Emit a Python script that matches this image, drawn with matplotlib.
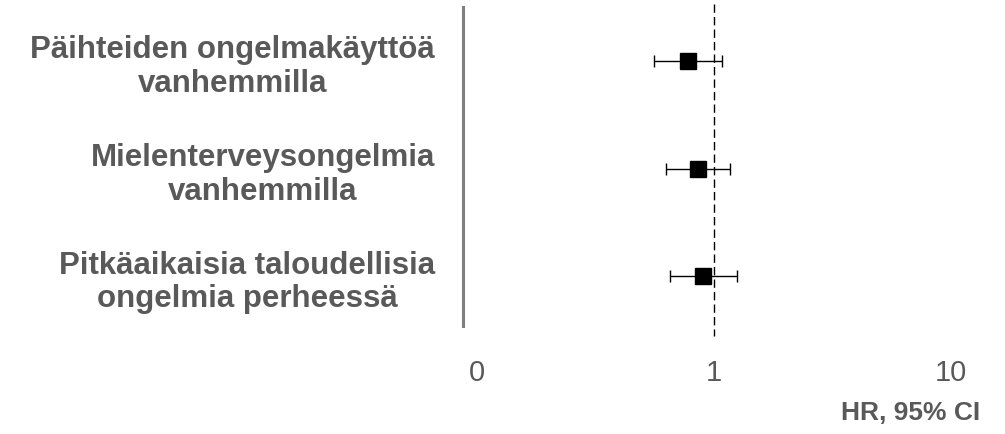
import matplotlib
matplotlib.use("Agg")
import matplotlib.pyplot as plt

labels = ["Päihteiden ongelmakäyttöä\nvanhemmilla",
          "Mielenterveysongelmia\nvanhemmilla",
          "Pitkäaikaisia taloudellisia\nongelmia perheessä"]
hr = [0.78, 0.86, 0.90]
ci_low = [0.56, 0.63, 0.65]
ci_high = [1.08, 1.17, 1.25]
tick_vals = [0.1, 1, 10]
tick_labels = ["0", "1", "10"]

plt.rcParams['font.family'] = ['Liberation Sans', 'DejaVu Sans']
gray = "#595959"

fig = plt.figure(figsize=(10.05, 4.35), dpi=100)
W, H = 1005, 435
ax = fig.add_axes([463 / W, 1 - 327 / H, (951 - 463) / W, (327 - 8) / H])

ypos = list(range(len(labels)))
err = [[h - l for h, l in zip(hr, ci_low)], [u - h for h, u in zip(hr, ci_high)]]
ax.errorbar(hr, ypos, xerr=err, fmt='s', color='black', ecolor='black',
            markersize=12, elinewidth=1.0, capsize=4.3, capthick=1.0, zorder=3)

ax.plot([1, 1], [-0.53, 2.55], color='black', lw=1.0, ls=(0, (6, 3)),
        clip_on=False, zorder=2)

ax.set_xscale('log')
ax.set_xlim(0.0873, 10)
ax.set_ylim(2.46, -0.5)
ax.set_xticks(tick_vals)
ax.set_xticklabels(tick_labels)
ax.minorticks_off()
ax.set_yticks(ypos)
ax.set_yticklabels(labels, fontsize=22.5, fontweight='bold', color=gray,
                   multialignment='center', linespacing=1.15)
ax.tick_params(axis='y', length=0, pad=20)
ax.tick_params(axis='x', length=0, pad=23, labelsize=21, labelcolor=gray)

for s in ['top', 'right', 'bottom']:
    ax.spines[s].set_visible(False)
ax.spines['left'].set_color('#7f7f7f')
ax.spines['left'].set_linewidth(2.2)

fig.text(980 / W, 1 - 413 / H, "HR, 95% CI", ha='right', va='center',
         fontsize=19, fontweight='bold', color=gray)

fig.savefig("out.png", dpi=100)
